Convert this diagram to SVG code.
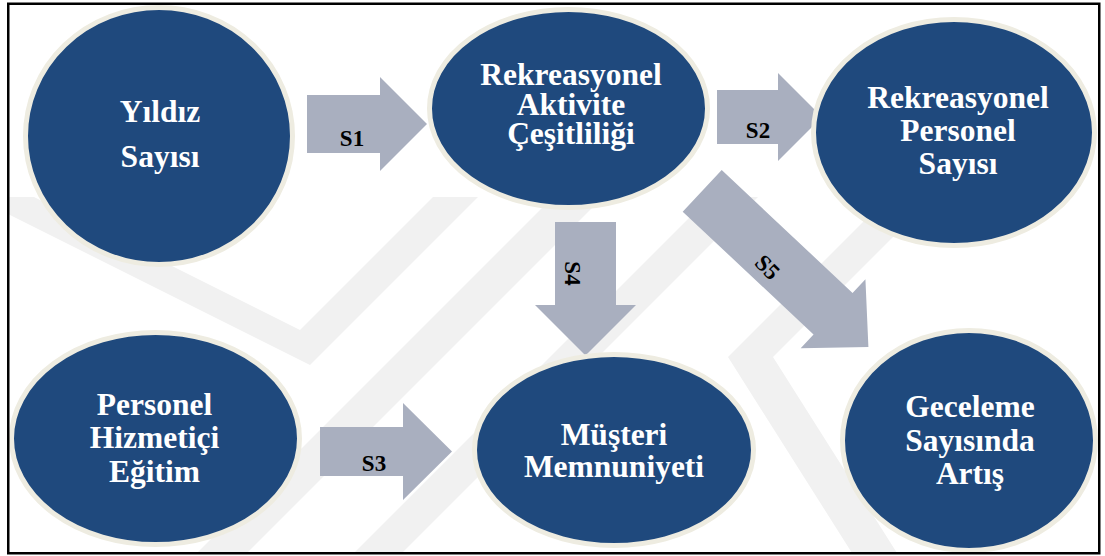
<svg xmlns="http://www.w3.org/2000/svg" width="1105" height="556" viewBox="0 0 1105 556">
  <style>
    .node ellipse { fill: #1F497D; stroke: #EEECE1; stroke-width: 5; }
    .node text { font-family: "Liberation Serif", "Times New Roman", serif; font-weight: bold; font-size: 31.5px; fill: #FFFFFF; text-anchor: middle; }
    .arrow { fill: #A9AFBF; }
    .lbl { font-family: "Liberation Serif", "Times New Roman", serif; font-weight: bold; font-size: 23px; fill: #000000; text-anchor: middle; }
    .wm { fill: #F1F1F1; }
  </style>
  <defs>
    <clipPath id="wmClip">
      <rect x="9" y="197" width="1090" height="356"/>
    </clipPath>
  </defs>

  <rect x="0" y="0" width="1105" height="556" fill="#FFFFFF"/>

  <!-- faint background stripes -->
  <g id="background-stripes" clip-path="url(#wmClip)">
    <polygon class="wm" points="34,197 300,330 433,197 478,197 310,365 0,210 0,197"/>
    <polygon class="wm" points="197,553 247,553 603,197 553,197"/>
    <polygon class="wm" points="354,553 402,553 758,197 710,197"/>
    <polygon class="wm" points="888,197 933,197 773,357 897,553 852,553 728,357"/>
  </g>

  <!-- block arrows with their labels -->
  <g id="connectors">
    <g id="s1">
      <path class="arrow" d="M307,95 H380 V77 L427,124 L380,171 V153 H307 Z"/>
      <text class="lbl" x="352" y="146">S1</text>
    </g>
    <g id="s2">
      <path class="arrow" d="M717,90 H778 V73 L822,117 L778,161 V144 H717 Z"/>
      <text class="lbl" x="758" y="138">S2</text>
    </g>
    <g id="s3">
      <path class="arrow" d="M320,427 H403 V403 L452,451.5 L403,500 V476 H320 Z"/>
      <text class="lbl" x="374" y="471">S3</text>
    </g>
    <g id="s4">
      <path class="arrow" d="M555,222 H616 V305 H636 L585.5,355.5 L535,305 H555 Z"/>
      <text class="lbl" transform="translate(565,273.5) rotate(90)">S4</text>
    </g>
    <g id="s5">
      <path class="arrow" transform="translate(702.2,190.85) rotate(43.2)" d="M0,-28.5 H179.5 V-47.3 L228,0 L179.5,47.3 V28.5 H0 Z"/>
      <text class="lbl" transform="translate(762,272.7) rotate(45)">S5</text>
    </g>
  </g>

  <g id="yildiz-sayisi" class="node">
    <ellipse cx="159" cy="136" rx="133.5" ry="128.5"/>
    <text x="160" y="122">Yıldız</text>
    <text x="160" y="167">Sayısı</text>
  </g>

  <g id="aktivite-cesitliligi" class="node">
    <ellipse cx="568.5" cy="108.5" rx="139" ry="99"/>
    <text x="571" y="85">Rekreasyonel</text>
    <text x="571" y="115">Aktivite</text>
    <text x="571" y="144">Çeşitliliği</text>
  </g>

  <g id="personel-sayisi" class="node">
    <ellipse cx="954" cy="132.5" rx="140.5" ry="113"/>
    <text x="958" y="108">Rekreasyonel</text>
    <text x="958" y="141">Personel</text>
    <text x="958" y="174">Sayısı</text>
  </g>

  <g id="hizmetici-egitim" class="node">
    <ellipse cx="155.5" cy="438.5" rx="144" ry="106"/>
    <text x="154.5" y="415">Personel</text>
    <text x="154.5" y="448">Hizmetiçi</text>
    <text x="154.5" y="482">Eğitim</text>
  </g>

  <g id="musteri-memnuniyeti" class="node">
    <ellipse cx="614" cy="450" rx="139.5" ry="95.5"/>
    <text x="614" y="445">Müşteri</text>
    <text x="614" y="477">Memnuniyeti</text>
  </g>

  <g id="geceleme-artis" class="node">
    <ellipse cx="969" cy="440.5" rx="126.5" ry="110"/>
    <text x="970" y="417">Geceleme</text>
    <text x="970" y="451">Sayısında</text>
    <text x="970" y="484">Artış</text>
  </g>

  <!-- outer frame -->
  <rect x="8.25" y="3.75" width="1091" height="549.5" fill="none" stroke="#000000" stroke-width="2.5"/>
</svg>
